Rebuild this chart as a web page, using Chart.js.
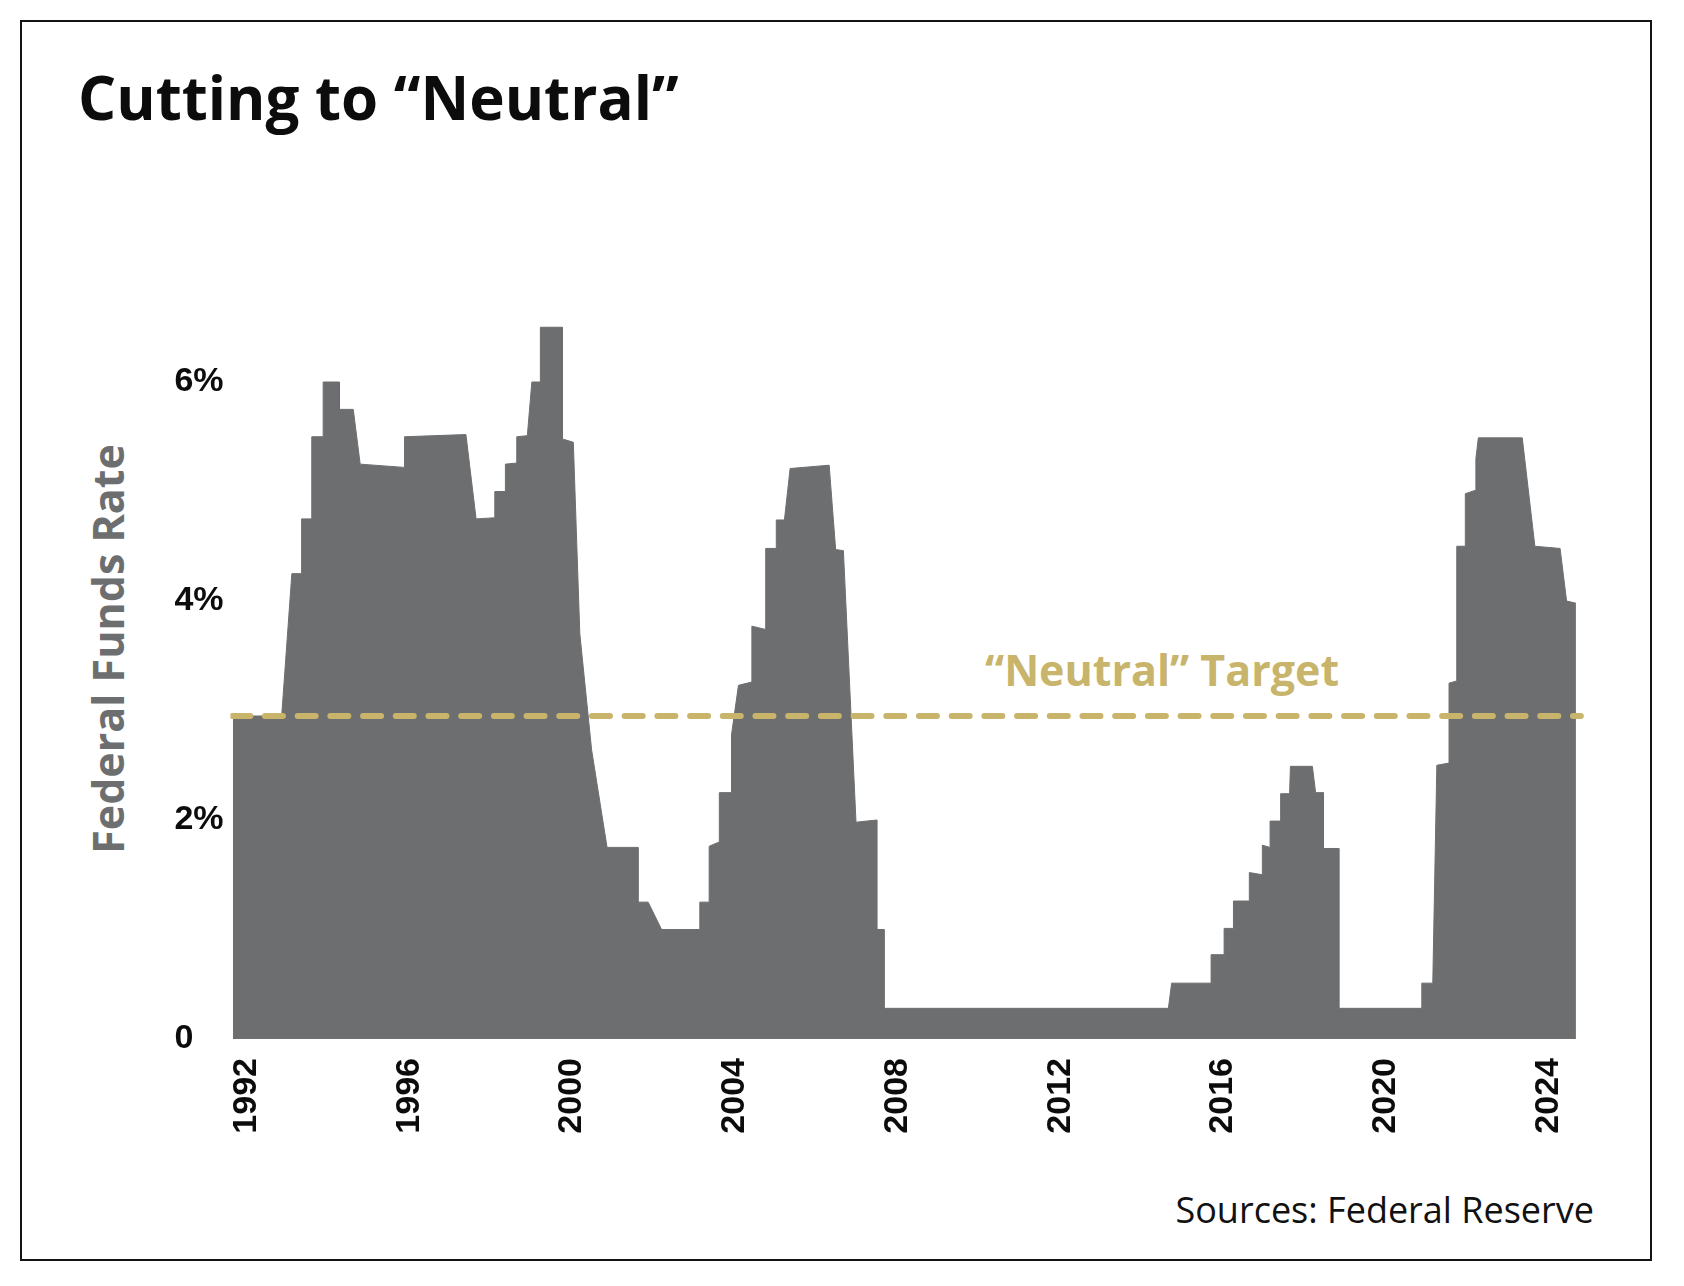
<!DOCTYPE html>
<html>
<head>
<meta charset="utf-8">
<script src="https://cdn.jsdelivr.net/npm/chart.js@4.4.1/dist/chart.umd.min.js"></script>
<style>
html,body{margin:0;padding:0;background:#fff;}
body{width:1684px;height:1286px;position:relative;overflow:hidden;font-family:"Open Sans",sans-serif;}
#frame{position:absolute;left:20px;top:20px;width:1628px;height:1237px;border:2.5px solid #141414;}
#title{position:absolute;left:78px;top:67px;font-size:60px;font-weight:700;line-height:1;color:#0c0c0c;white-space:nowrap;}
#ytitle{position:absolute;left:107px;top:649px;transform:translate(-50%,-50%) rotate(-90deg);font-size:43px;font-weight:700;line-height:1;color:#6d6e70;white-space:nowrap;}
#neutral{position:absolute;left:985px;top:648px;font-size:43px;font-weight:700;line-height:1;color:#c8b46a;white-space:nowrap;}
#source{position:absolute;right:90px;top:1192px;font-size:36px;font-weight:400;line-height:1;color:#111;white-space:nowrap;}
#cv{position:absolute;left:0;top:0;}
</style>
</head>
<body>
<div id="frame"></div>
<div id="title">Cutting to “Neutral”</div>
<div id="ytitle">Federal Funds Rate</div>
<div id="neutral">“Neutral” Target</div>
<div id="source">Sources: Federal Reserve</div>
<canvas id="cv" width="1684" height="1286"></canvas>
<script>
// Dates in axis years and the rate in percent
const dates = [
  1991.66, 1992.86, 1993.11, 1993.35, 1993.35, 1993.60, 1993.60, 1993.88, 1993.88, 1994.28,
  1994.28, 1994.62, 1994.79, 1995.88, 1995.88, 1997.39, 1997.64, 1998.10, 1998.10, 1998.36,
  1998.36, 1998.64, 1998.64, 1998.90, 1999.01, 1999.22, 1999.22, 1999.76, 1999.76, 2000.03,
  2000.19, 2000.48, 2000.86, 2001.62, 2001.62, 2001.87, 2002.20, 2003.14, 2003.14, 2003.37,
  2003.37, 2003.62, 2003.62, 2003.92, 2003.92, 2004.09, 2004.42, 2004.42, 2004.76, 2004.76,
  2005.02, 2005.02, 2005.22, 2005.36, 2006.32, 2006.48, 2006.67, 2006.98, 2007.49, 2007.49,
  2007.67, 2007.67, 2014.66, 2014.74, 2015.71, 2015.71, 2016.03, 2016.03, 2016.26, 2016.26,
  2016.65, 2016.65, 2016.97, 2016.97, 2017.16, 2017.16, 2017.42, 2017.42, 2017.64, 2017.66,
  2018.20, 2018.28, 2018.47, 2018.47, 2018.85, 2018.85, 2020.89, 2020.89, 2021.16, 2021.26,
  2021.56, 2021.56, 2021.75, 2021.75, 2021.96, 2021.96, 2022.20, 2022.22, 2022.28, 2023.36,
  2023.67, 2024.29, 2024.45, 2024.68
];
const rates = [
  2.95, 2.95, 4.25, 4.25, 4.75, 4.75, 5.50, 5.50, 6.00, 6.00,
  5.75, 5.75, 5.25, 5.22, 5.50, 5.52, 4.75, 4.76, 5.00, 5.00,
  5.25, 5.26, 5.50, 5.51, 6.00, 6.00, 6.50, 6.50, 5.48, 5.45,
  3.70, 2.64, 1.75, 1.75, 1.25, 1.25, 1.00, 1.00, 1.25, 1.25,
  1.76, 1.80, 2.25, 2.25, 2.78, 3.23, 3.26, 3.77, 3.74, 4.48,
  4.48, 4.74, 4.74, 5.21, 5.24, 4.47, 4.46, 1.98, 2.00, 1.00,
  1.00, 0.28, 0.28, 0.51, 0.51, 0.77, 0.77, 1.01, 1.01, 1.26,
  1.26, 1.52, 1.50, 1.77, 1.75, 1.99, 1.99, 2.24, 2.24, 2.49,
  2.49, 2.25, 2.25, 1.74, 1.74, 0.28, 0.28, 0.51, 0.51, 2.50,
  2.52, 3.25, 3.27, 4.50, 4.50, 4.98, 5.01, 5.30, 5.49, 5.49,
  4.50, 4.48, 4.00, 3.98
];
const neutralRate = 2.95;
const neutralSpan = [1991.645, 2024.8];
const xTickYears = [1992, 1996, 2000, 2004, 2008, 2012, 2016, 2020, 2024];
const yTickValues = [0, 2, 4, 6];

const AREA = '#6d6e70';
const GOLD = '#c8b46a';
const tickFont = {family: '"Liberation Sans", Arial, sans-serif', size: 34, weight: 'bold'};

new Chart(document.getElementById('cv').getContext('2d'), {
  type: 'line',
  data: {
    datasets: [
      {
        label: 'Neutral',
        data: neutralSpan.map(x => ({x: x, y: neutralRate})),
        borderColor: GOLD,
        borderWidth: 6,
        borderDash: [18, 14.7],
        borderCapStyle: 'round',
        pointRadius: 0,
        fill: false,
        order: 0
      },
      {
        label: 'Federal Funds Rate',
        data: dates.map((d, i) => ({x: d, y: rates[i]})),
        borderColor: AREA,
        borderWidth: 1,
        backgroundColor: AREA,
        fill: 'origin',
        pointRadius: 0,
        tension: 0,
        order: 1
      }
    ]
  },
  options: {
    responsive: false,
    animation: false,
    events: [],
    layout: {padding: {left: 174.43, right: 80.8, top: 272.5, bottom: 97}},
    plugins: {legend: {display: false}, tooltip: {enabled: false}, title: {display: false}},
    scales: {
      x: {
        type: 'linear',
        min: 1991.6,
        max: 2025.35,
        grid: {display: false, drawTicks: false},
        border: {display: false},
        afterBuildTicks: s => { s.ticks = xTickYears.map(v => ({value: v})); },
        afterFit: s => { s.height = 150; },
        ticks: {
          autoSkip: false,
          minRotation: 90,
          maxRotation: 90,
          padding: 19,
          color: '#0c0c0c',
          font: tickFont,
          callback: v => String(v)
        }
      },
      y: {
        type: 'linear',
        min: 0,
        max: 7,
        grid: {display: false, drawTicks: false},
        border: {display: false},
        afterBuildTicks: s => { s.ticks = yTickValues.map(v => ({value: v})); },
        afterFit: s => { s.width = 56; },
        ticks: {
          crossAlign: 'far',
          padding: 10,
          color: '#0c0c0c',
          font: tickFont,
          callback: v => (v === 0 ? '0' : v + '%')
        }
      }
    }
  }
});
</script>
</body>
</html>
